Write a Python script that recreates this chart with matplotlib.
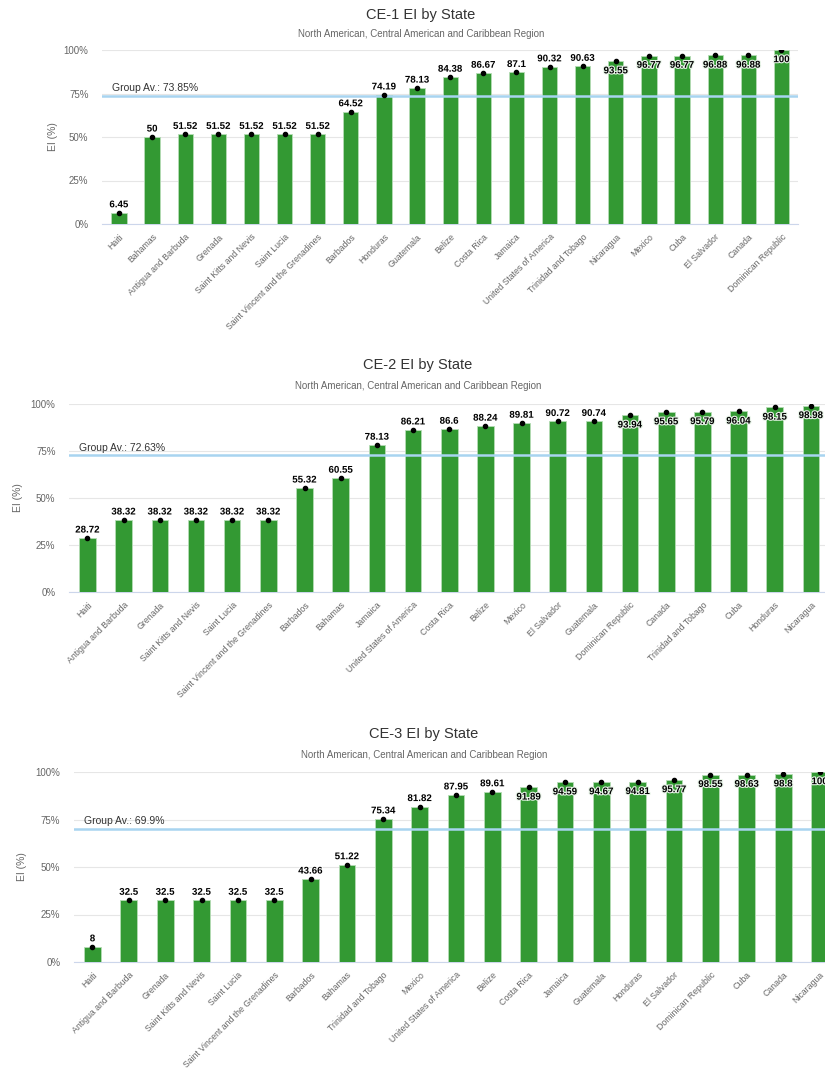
import matplotlib
matplotlib.use("Agg")
import matplotlib.pyplot as plt
import matplotlib.patheffects as pe

plt.rcParams['font.family'] = ['Liberation Sans', 'DejaVu Sans']

ce1_states = ["Haiti", "Bahamas", "Antigua and Barbuda", "Grenada", "Saint Kitts and Nevis",
              "Saint Lucia", "Saint Vincent and the Grenadines", "Barbados", "Honduras",
              "Guatemala", "Belize", "Costa Rica", "Jamaica", "United States of America",
              "Trinidad and Tobago", "Nicaragua", "Mexico", "Cuba", "El Salvador", "Canada",
              "Dominican Republic"]
ce1_values = [6.45, 50, 51.52, 51.52, 51.52, 51.52, 51.52, 64.52, 74.19, 78.13, 84.38,
              86.67, 87.1, 90.32, 90.63, 93.55, 96.77, 96.77, 96.88, 96.88, 100]
ce1_avg = 73.85

ce2_states = ["Haiti", "Antigua and Barbuda", "Grenada", "Saint Kitts and Nevis", "Saint Lucia",
              "Saint Vincent and the Grenadines", "Barbados", "Bahamas", "Jamaica",
              "United States of America", "Costa Rica", "Belize", "Mexico", "El Salvador",
              "Guatemala", "Dominican Republic", "Canada", "Trinidad and Tobago", "Cuba",
              "Honduras", "Nicaragua"]
ce2_values = [28.72, 38.32, 38.32, 38.32, 38.32, 38.32, 55.32, 60.55, 78.13, 86.21, 86.6,
              88.24, 89.81, 90.72, 90.74, 93.94, 95.65, 95.79, 96.04, 98.15, 98.98]
ce2_avg = 72.63

ce3_states = ["Haiti", "Antigua and Barbuda", "Grenada", "Saint Kitts and Nevis", "Saint Lucia",
              "Saint Vincent and the Grenadines", "Barbados", "Bahamas", "Trinidad and Tobago",
              "Mexico", "United States of America", "Belize", "Costa Rica", "Jamaica",
              "Guatemala", "Honduras", "El Salvador", "Dominican Republic", "Cuba", "Canada",
              "Nicaragua"]
ce3_values = [8, 32.5, 32.5, 32.5, 32.5, 32.5, 43.66, 51.22, 75.34, 81.82, 87.95, 89.61,
              91.89, 94.59, 94.67, 94.81, 95.77, 98.55, 98.63, 98.8, 100]
ce3_avg = 69.9

titles = ["CE-1 EI by State", "CE-2 EI by State", "CE-3 EI by State"]
subtitle = "North American, Central American and Caribbean Region"
yticks = [0, 25, 50, 75, 100]
ytick_labels = ["0%", "25%", "50%", "75%", "100%"]

W, H = 825, 1080
fig = plt.figure(figsize=(W / 100, H / 100), dpi=100)

# layout in pixels: left, right, top(100%), bottom(0%), title_x, title_y, sub_y, ylabel_x
layouts = [
    (102.4, 798.0, 50, 224, 421, 15, 34, 53),
    (69.4, 829.0, 404, 592, 418, 365, 386, 18),
    (74.3, 837.7, 772, 962, 424, 734, 755, 22),
]
panels = [(ce1_states, ce1_values, ce1_avg), (ce2_states, ce2_values, ce2_avg),
          (ce3_states, ce3_values, ce3_avg)]

green = "#339933"
for i, ((states, vals, avg), lay) in enumerate(zip(panels, layouts)):
    l, r, t, b, tx, ty, sy, ylx = lay
    ax = fig.add_axes([l / W, 1 - b / H, (r - l) / W, (b - t) / H])
    x = list(range(len(states)))
    ax.bar(x, vals, width=0.46, color=green, edgecolor="#b5dcb5", linewidth=0.6, zorder=3)
    ax.scatter(x, vals, s=9, color="black", zorder=5)
    ax.set_xlim(-0.5, len(states) - 0.5)
    ax.set_ylim(0, 100)
    ax.set_yticks(yticks)
    ax.set_yticklabels(ytick_labels, fontsize=7, color="#666666")
    ax.grid(axis="y", color="#e6e6e6", linewidth=0.8, zorder=0)
    ax.set_axisbelow(True)
    for s in ["top", "right", "left"]:
        ax.spines[s].set_visible(False)
    ax.spines["bottom"].set_color("#ccd6eb")
    ax.spines["bottom"].set_linewidth(0.8)
    ax.tick_params(axis="both", length=0)
    ax.tick_params(axis="y", pad=10)
    ax.set_xticks(x)
    ax.set_xticklabels(states, rotation=45, ha="right", rotation_mode="anchor",
                       fontsize=6.3, color="#666666")
    ax.tick_params(axis="x", pad=6)
    # average line
    ax.axhline(avg, color="#a8d4f0", linewidth=1.8, zorder=4)
    ax.annotate(f"Group Av.: {avg}%", xy=(0, avg), xycoords=("axes fraction", "data"),
                xytext=(7, 2), textcoords="offset points", fontsize=7.5, color="#333333",
                ha="left", va="bottom", zorder=6)
    # data labels
    for xi, v in zip(x, vals):
        lab = f"{v:g}"
        if v > 91:
            ax.annotate(lab, xy=(xi, v), xytext=(0, -3), textcoords="offset points",
                        ha="center", va="top", fontsize=7, fontweight="bold", color="black",
                        zorder=7,
                        path_effects=[pe.withStroke(linewidth=1.6, foreground="#e8f4e8")])
        else:
            ax.annotate(lab, xy=(xi, v), xytext=(0, 2.5), textcoords="offset points",
                        ha="center", va="bottom", fontsize=7, fontweight="bold", color="black",
                        zorder=7,
                        path_effects=[pe.withStroke(linewidth=1.6, foreground="white")])
    fig.text(ylx / W, 1 - ((t + b) / 2) / H, "EI (%)", rotation=90, ha="center", va="center",
             fontsize=7.5, color="#666666")
    fig.text(tx / W, 1 - ty / H, titles[i], ha="center", va="center", fontsize=10.5,
             color="#333333")
    fig.text(tx / W, 1 - sy / H, subtitle, ha="center", va="center", fontsize=7,
             color="#666666")

fig.savefig("out.png", dpi=100, facecolor="white")
